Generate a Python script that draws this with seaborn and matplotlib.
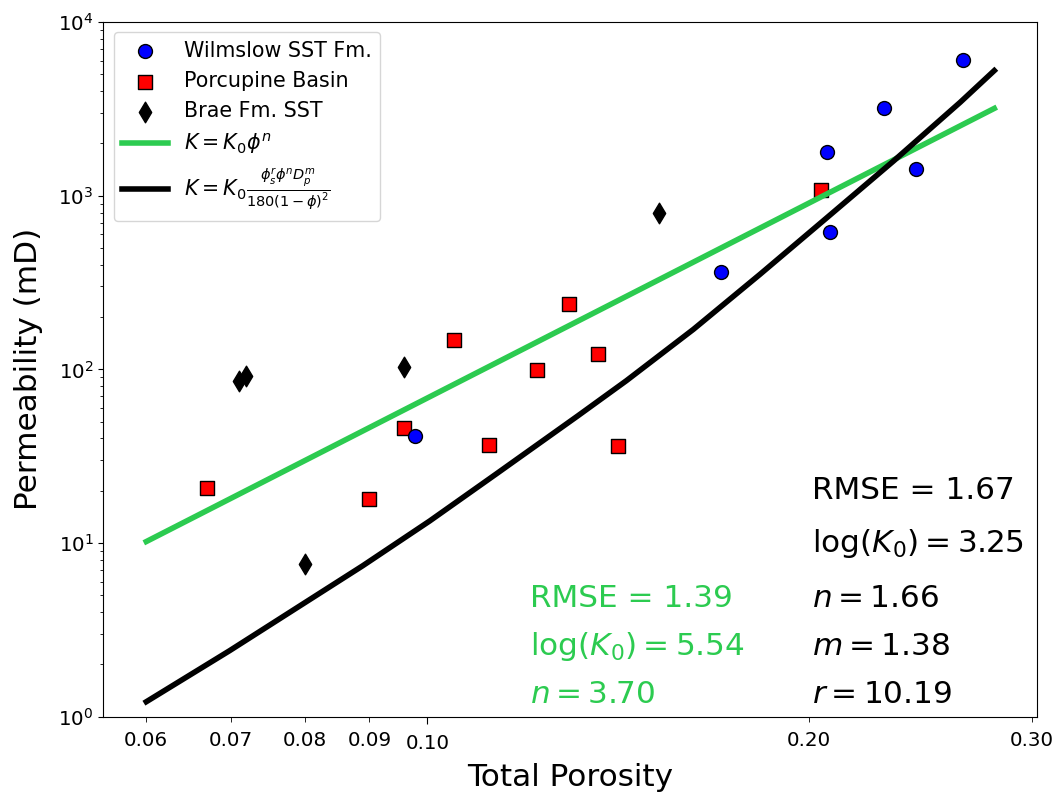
import numpy as np
import pandas as pd
import seaborn as sns
import matplotlib
matplotlib.use("Agg")
import matplotlib.pyplot as plt
from matplotlib.ticker import FormatStrFormatter

wil_phi = [0.0977, 0.1703, 0.2067, 0.2077, 0.2292, 0.2430, 0.2646]
wil_k = [41.4, 364, 1786, 621, 3200, 1426, 6040]

por_phi = [0.0670, 0.0900, 0.0959, 0.1050, 0.1119, 0.1221, 0.1292, 0.1362, 0.1413, 0.2043]
por_k = [20.8, 18.0, 46, 148, 36.8, 99.3, 238, 123, 36.3, 1079]

brae_phi = [0.0710, 0.0719, 0.0800, 0.0959, 0.1523]
brae_k = [85.9, 91.8, 7.6, 103, 799]

# fitted model curves
pow_phi = [0.06, 0.28]
pow_k = [10.2, 3180]

kc_phi = [0.06, 0.0698, 0.0797, 0.0889, 0.1004, 0.1133, 0.1314, 0.1435, 0.1621,
          0.1829, 0.2065, 0.2331, 0.2632, 0.28]
kc_k = [1.22, 2.40, 4.45, 7.4, 13.4, 25.0, 54, 86, 170, 352, 745, 1580, 3450, 5250]

green = '#2ccb50'
txt_size = 22.4

fig, ax = plt.subplots(figsize=(10.58, 7.94), dpi=100)
fig.subplots_adjust(left=0.0977, right=0.980, bottom=0.0973, top=0.9723)

sns.scatterplot(x=wil_phi, y=wil_k, ax=ax, color='blue', marker='o', s=100,
                edgecolor='black', linewidth=1, label='Wilmslow SST Fm.', zorder=1.5)
sns.scatterplot(x=por_phi, y=por_k, ax=ax, color='red', marker='s', s=100,
                edgecolor='black', linewidth=1, label='Porcupine Basin', zorder=1.2)
sns.scatterplot(x=brae_phi, y=brae_k, ax=ax, color='black', marker='d', s=110,
                edgecolor='black', linewidth=1, label='Brae Fm. SST', zorder=1.3)

sns.lineplot(x=pow_phi, y=pow_k, ax=ax, color=green, linewidth=4,
             label=r'$K = K_0\phi^n$')
sns.lineplot(x=kc_phi, y=kc_k, ax=ax, color='black', linewidth=4,
             label=r'$K = K_0\frac{\phi_s^r\phi^nD_p^m}{180(1-\phi)^2}$')

ax.set_xscale('log')
ax.set_yscale('log')
ax.set_ylim(1, 1e4)
ax.set_xlim(0.0555, 0.3025)

ax.xaxis.set_major_formatter(FormatStrFormatter('%.2f'))
ax.xaxis.set_minor_formatter(FormatStrFormatter('%.2f'))
ax.tick_params(axis='both', which='both', labelsize=14.3)
ax.tick_params(axis='x', which='major', length=5, pad=7.5)
ax.tick_params(axis='x', which='minor', length=3.5, pad=7.0)

ax.set_xlabel('Total Porosity', fontsize=txt_size, labelpad=7)
ax.set_ylabel('Permeability (mD)', fontsize=txt_size, labelpad=11)

ax.legend(loc='upper left', fontsize=14.9, handlelength=2.2)

# fit statistics
ax.text(0.7587, 0.3129, 'RMSE = 1.67', transform=ax.transAxes, fontsize=txt_size, va='baseline')
ax.text(0.7587, 0.2375, r'$\log(K_0) = 3.25$', transform=ax.transAxes, fontsize=txt_size, va='baseline')
ax.text(0.7587, 0.1583, r'$n = 1.66$', transform=ax.transAxes, fontsize=txt_size, va='baseline')
ax.text(0.7587, 0.0888, r'$m = 1.38$', transform=ax.transAxes, fontsize=txt_size, va='baseline')
ax.text(0.7587, 0.0193, r'$r = 10.19$', transform=ax.transAxes, fontsize=txt_size, va='baseline')

ax.text(0.457, 0.1583, 'RMSE = 1.39', transform=ax.transAxes, fontsize=txt_size, va='baseline', color=green)
ax.text(0.457, 0.0888, r'$\log(K_0) = 5.54$', transform=ax.transAxes, fontsize=txt_size, va='baseline', color=green)
ax.text(0.457, 0.0193, r'$n = 3.70$', transform=ax.transAxes, fontsize=txt_size, va='baseline', color=green)

plt.savefig('out.png', dpi=100)
